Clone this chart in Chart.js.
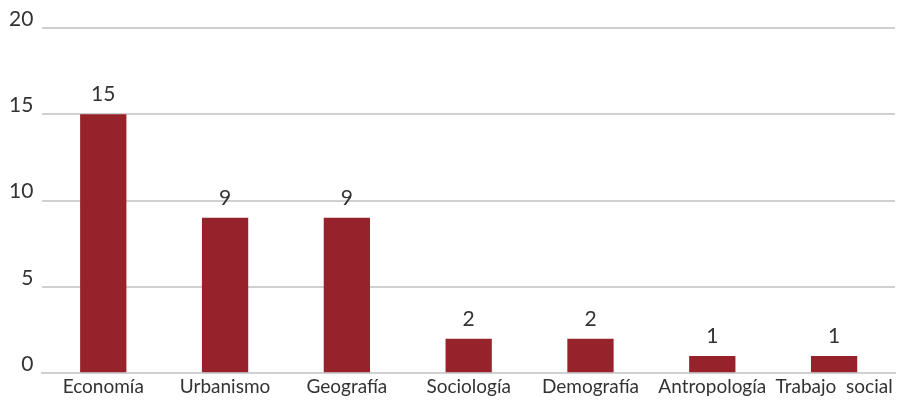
<!DOCTYPE html>
<html>
<head>
<meta charset="utf-8">
<script src="https://cdn.jsdelivr.net/npm/chart.js@4/dist/chart.umd.min.js"></script>
<style>
  html, body { margin: 0; padding: 0; background: #fff; }
  #wrap { width: 901px; height: 400px; }
</style>
</head>
<body>
<div id="wrap"><canvas id="bar-chart"></canvas></div>
<script>
const categories = ["Economía", "Urbanismo", "Geografía", "Sociología", "Demografía", "Antropología", "Trabajo  social"];
const values = [15, 9, 9, 2, 2, 1, 1];
const yTicks = [0, 5, 10, 15, 20];

// draws the value above each bar
const valueLabels = {
  id: 'valueLabels',
  afterDatasetsDraw(chart) {
    const ctx = chart.ctx;
    const meta = chart.getDatasetMeta(0);
    ctx.save();
    ctx.font = '21px Lato, sans-serif';
    ctx.fillStyle = '#333333';
    ctx.textAlign = 'center';
    ctx.textBaseline = 'alphabetic';
    meta.data.forEach((bar, i) => {
      ctx.fillText(values[i], bar.x, bar.y - 13);
    });
    ctx.restore();
  }
};

new Chart(document.getElementById('bar-chart'), {
  type: 'bar',
  data: {
    labels: categories,
    datasets: [{
      data: values,
      backgroundColor: '#96232B',
      barPercentage: 0.38,
      categoryPercentage: 1.0
    }]
  },
  options: {
    responsive: true,
    maintainAspectRatio: false,
    animation: false,
    layout: { padding: { top: 28, right: 6, left: 0, bottom: 0 } },
    plugins: {
      legend: { display: false },
      tooltip: { enabled: false }
    },
    scales: {
      x: {
        grid: { display: false, drawTicks: false },
        border: { display: true, color: '#d0d0d0', width: 2 },
        ticks: {
          color: '#333333',
          font: { family: 'Lato, sans-serif', size: 19 },
          padding: 2,
          maxRotation: 0,
          autoSkip: false
        }
      },
      y: {
        min: 0,
        max: 20,
        afterBuildTicks(scale) {
          scale.ticks = yTicks.map(v => ({ value: v }));
        },
        grid: { color: '#d0d0d0', lineWidth: 2, drawTicks: false },
        border: { display: false },
        ticks: {
          color: '#333333',
          font: { family: 'Lato, sans-serif', size: 21 },
          padding: 9,
          labelOffset: -9
        }
      }
    }
  },
  plugins: [valueLabels]
});
</script>
</body>
</html>
